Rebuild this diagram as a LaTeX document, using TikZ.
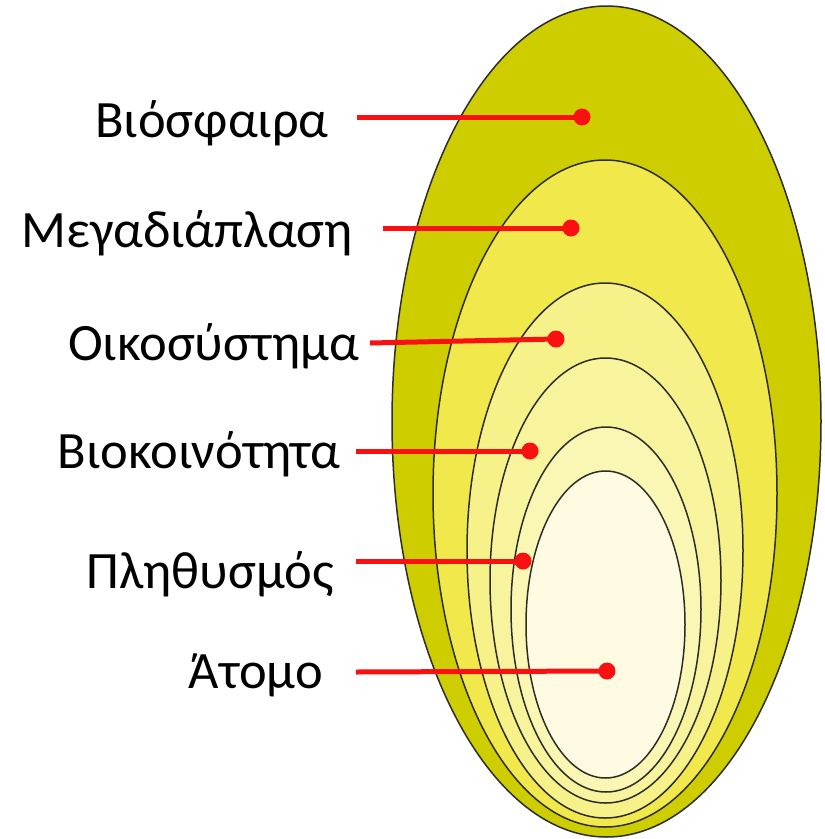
\documentclass[tikz,border=0pt]{standalone}
\usepackage{fontspec}
\setmainfont{Carlito}
\definecolor{c1}{RGB}{205,205,0}
\definecolor{c2}{RGB}{241,233,76}
\definecolor{c3}{RGB}{247,241,138}
\definecolor{c4}{RGB}{248,244,158}
\definecolor{c5}{RGB}{250,247,180}
\definecolor{c6}{RGB}{254,251,226}
\definecolor{lred}{RGB}{250,16,16}
\definecolor{edge}{RGB}{45,45,40}
\begin{document}
\begin{tikzpicture}[x=1pt,y=-1pt,
  shell/.style={draw=edge,line width=1.5pt},
  lbl/.style={anchor=base east,inner sep=0pt,font=\fontsize{52.5}{60}\selectfont},
  dotnode/.style={circle,fill=lred,inner sep=0pt,minimum size=17pt},
  leader/.style={draw=lred,line width=5pt}]
\useasboundingbox (0,0) rectangle (825,839);
\path[shell,fill=c1] (606.5,421.5) ellipse [x radius=214.5,y radius=415.5];
\path[shell,fill=c2] (605,493.5) ellipse [x radius=172,y radius=333.5];
\path[shell,fill=c3] (605,550.5) ellipse [x radius=138,y radius=267.5];
\path[shell,fill=c4] (605.5,580.5) ellipse [x radius=115.5,y radius=222.5];
\path[shell,fill=c5] (606,609.5) ellipse [x radius=95,y radius=182.5];
\path[shell,fill=c6] (605.5,624.5) ellipse [x radius=79.5,y radius=153.5];

\node[lbl] (l1) at (329,137) {Βιόσφαιρα};
\node[lbl] (l2) at (353,247) {Μεγαδιάπλαση};
\node[lbl] (l3) at (359,360) {Οικοσύστημα};
\node[lbl] (l4) at (341,468) {Βιοκοινότητα};
\node[lbl] (l5) at (334,588) {Πληθυσμός};
\node[lbl] (l6) at (323,688) {Άτομο};

\coordinate (s1) at (357,117);
\coordinate (s2) at (383,228);
\coordinate (s3) at (370,343);
\coordinate (s4) at (356,451);
\coordinate (s5) at (356,561);
\coordinate (s6) at (356,672);

\node[dotnode] (d1) at (582,117) {};
\node[dotnode] (d2) at (571,228) {};
\node[dotnode] (d3) at (556,339) {};
\node[dotnode] (d4) at (530,451) {};
\node[dotnode] (d5) at (523,561) {};
\node[dotnode] (d6) at (607,671) {};

\foreach \i in {1,...,6} \draw[leader] (s\i) -- (d\i.center);
\end{tikzpicture}
\end{document}
